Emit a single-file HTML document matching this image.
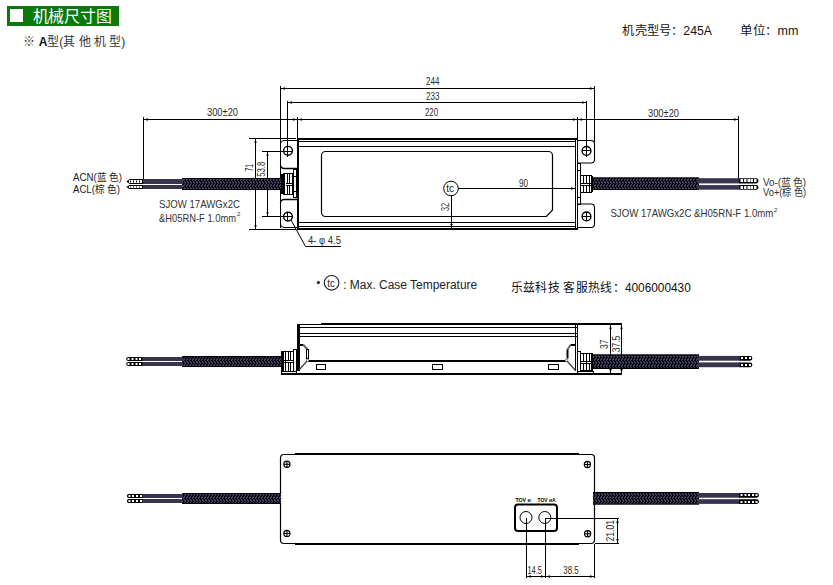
<!DOCTYPE html>
<html lang="zh-CN">
<head>
<meta charset="utf-8">
<style>
html,body{margin:0;padding:0;background:#fff;width:833px;height:585px;overflow:hidden;}
svg{display:block;}
text{font-family:"Liberation Sans",sans-serif;}
</style>
</head>
<body>
<svg width="833" height="585" viewBox="0 0 833 585">
<defs>
<pattern id="braid" x="0" y="0" width="3" height="6" patternUnits="userSpaceOnUse">
<rect width="3" height="6" fill="#08080f"/>
<rect x="0" y="0" width="1" height="1" fill="#444160"/>
<rect x="1" y="1" width="1" height="1" fill="#444160"/>
<rect x="1" y="2" width="2" height="1" fill="#444160"/>
<rect x="2" y="3" width="1" height="1" fill="#444160"/>
<rect x="1" y="4" width="1" height="1" fill="#444160"/>
<rect x="0" y="5" width="2" height="1" fill="#444160"/>
</pattern>
</defs>
<rect x="7" y="6" width="112" height="20" fill="#0a790a"/>
<rect x="10" y="9" width="13" height="13" fill="#fff"/>
<text x="32.5" y="22" font-size="16" textLength="79.5" lengthAdjust="spacingAndGlyphs" font-weight="300" fill="#fff" >机械尺寸图</text>
<text x="23.3" y="46" font-size="12" fill="#333">※ <tspan font-weight="bold" fill="#111">A</tspan>型(其 他 机 型)</text>
<text x="622.3" y="35" font-size="12" textLength="89.6" lengthAdjust="spacingAndGlyphs" fill="#151515" >机壳型号：245A</text>
<text x="740" y="35" font-size="12" textLength="58.5" lengthAdjust="spacingAndGlyphs" fill="#151515" >单位：mm</text>
<g shape-rendering="crispEdges">
<line x1="280.5" y1="86" x2="280.5" y2="228" stroke="#000" stroke-width="1"/>
<line x1="594.5" y1="86" x2="594.5" y2="142" stroke="#000" stroke-width="1"/>
<line x1="280.5" y1="88.5" x2="594.5" y2="88.5" stroke="#000" stroke-width="1"/>
<line x1="287.5" y1="101" x2="287.5" y2="157" stroke="#000" stroke-width="1"/>
<line x1="586.5" y1="101" x2="586.5" y2="157" stroke="#000" stroke-width="1"/>
<line x1="287.5" y1="102.5" x2="586.5" y2="102.5" stroke="#000" stroke-width="1"/>
<line x1="297.5" y1="117" x2="297.5" y2="139" stroke="#000" stroke-width="1"/>
<line x1="577.5" y1="117" x2="577.5" y2="139" stroke="#000" stroke-width="1"/>
<line x1="143.5" y1="117" x2="143.5" y2="180" stroke="#000" stroke-width="1"/>
<line x1="738.5" y1="116" x2="738.5" y2="179" stroke="#000" stroke-width="1"/>
<line x1="143.5" y1="119.5" x2="738.5" y2="119.5" stroke="#000" stroke-width="1"/>
<line x1="249" y1="138.5" x2="296" y2="138.5" stroke="#000" stroke-width="1"/>
<line x1="249" y1="229.5" x2="296" y2="229.5" stroke="#000" stroke-width="1"/>
<line x1="255.5" y1="138.5" x2="255.5" y2="229.5" stroke="#000" stroke-width="1"/>
<line x1="262" y1="151.5" x2="293" y2="151.5" stroke="#000" stroke-width="1"/>
<line x1="262" y1="216.5" x2="293" y2="216.5" stroke="#000" stroke-width="1"/>
<line x1="267.5" y1="151.5" x2="267.5" y2="216.5" stroke="#000" stroke-width="1"/>
</g>
<polygon points="281,88.5 285,87.3 285,89.7" fill="#000"/>
<polygon points="594,88.5 590,87.3 590,89.7" fill="#000"/>
<polygon points="288,102.5 292,101.3 292,103.7" fill="#000"/>
<polygon points="586,102.5 582,101.3 582,103.7" fill="#000"/>
<polygon points="144,119.5 148,118.3 148,120.7" fill="#000"/>
<polygon points="297,119.5 293,118.3 293,120.7" fill="#000"/>
<polygon points="298,119.5 302,118.3 302,120.7" fill="#000"/>
<polygon points="577,119.5 573,118.3 573,120.7" fill="#000"/>
<polygon points="578,119.5 582,118.3 582,120.7" fill="#000"/>
<polygon points="738,119.5 734,118.3 734,120.7" fill="#000"/>
<polygon points="255.5,139 254.3,143 256.7,143" fill="#000"/>
<polygon points="255.5,229 254.3,225 256.7,225" fill="#000"/>
<polygon points="267.5,152 266.3,156 268.7,156" fill="#000"/>
<polygon points="267.5,216 266.3,212 268.7,212" fill="#000"/>
<polygon points="575,188.5 571,187.3 571,189.7" fill="#000"/>
<polygon points="451.5,228 450.3,224 452.7,224" fill="#000"/>
<text x="426" y="85" font-size="10" textLength="13.5" lengthAdjust="spacingAndGlyphs" fill="#2b2b2b" >244</text>
<text x="426" y="100" font-size="10" textLength="13.5" lengthAdjust="spacingAndGlyphs" fill="#2b2b2b" >233</text>
<text x="425" y="116" font-size="10" textLength="13" lengthAdjust="spacingAndGlyphs" fill="#2b2b2b" >220</text>
<text x="207" y="115.6" font-size="10" textLength="31" lengthAdjust="spacingAndGlyphs" fill="#2b2b2b" >300±20</text>
<text x="648" y="117" font-size="10" textLength="31" lengthAdjust="spacingAndGlyphs" fill="#2b2b2b" >300±20</text>
<text transform="translate(253.3,171.5) rotate(-90)" font-size="10" textLength="7.5" lengthAdjust="spacingAndGlyphs" fill="#2b2b2b" >71</text>
<text transform="translate(265.1,176.7) rotate(-90)" font-size="10" textLength="15" lengthAdjust="spacingAndGlyphs" fill="#2b2b2b" >53.8</text>
<text x="519" y="187.2" font-size="10" textLength="9" lengthAdjust="spacingAndGlyphs" fill="#2b2b2b" >90</text>
<text transform="translate(448.6,210.9) rotate(-90)" font-size="10" textLength="8" lengthAdjust="spacingAndGlyphs" fill="#2b2b2b" >32</text>
<g shape-rendering="crispEdges">
<rect x="297" y="138" width="281" height="2" fill="#000"/>
<rect x="297" y="228" width="281" height="2" fill="#000"/>
<rect x="297" y="138" width="2" height="92" fill="#000"/>
<line x1="298" y1="141.5" x2="576" y2="141.5" stroke="#000" stroke-width="1"/>
<line x1="298" y1="146.5" x2="576" y2="146.5" stroke="#000" stroke-width="1"/>
<line x1="298" y1="222.5" x2="576" y2="222.5" stroke="#000" stroke-width="1"/>
<line x1="298" y1="226.5" x2="576" y2="226.5" stroke="#000" stroke-width="1"/>
<line x1="575.5" y1="139" x2="575.5" y2="229" stroke="#000" stroke-width="1"/>
<line x1="577.5" y1="139" x2="577.5" y2="229" stroke="#000" stroke-width="1"/>
</g>
<path d="M321.5,155.5 A4,4 0 0 1 325.5,151.5 H548.5 A4,4 0 0 1 552.5,155.5 V210 L546.5,216.5 H325.5 A4,4 0 0 1 321.5,212.5 Z" fill="none" stroke="#000" stroke-width="1.2" />
<circle cx="451" cy="188.5" r="7.3" fill="#fff" stroke="#000" stroke-width="1"/>
<text x="446.2" y="192.2" font-size="10" textLength="7.8" lengthAdjust="spacingAndGlyphs" fill="#222" >tc</text>
<g shape-rendering="crispEdges">
<line x1="458" y1="188.5" x2="575" y2="188.5" stroke="#000" stroke-width="1"/>
<line x1="451.5" y1="196" x2="451.5" y2="228" stroke="#000" stroke-width="1"/>
</g>
<path d="M297,140.5 H284 A3.5,3.5 0 0 0 280.5,144" fill="none" stroke="#000" stroke-width="1" />
<path d="M280.5,165 A3.5,3.5 0 0 0 284,168.5 H297" fill="none" stroke="#000" stroke-width="1.4" />
<path d="M297,199.5 H284 A3.5,3.5 0 0 0 280.5,203" fill="none" stroke="#000" stroke-width="1.4" />
<path d="M280.5,224 A3.5,3.5 0 0 0 284,227.5 H297" fill="none" stroke="#000" stroke-width="1" />
<path d="M578,140.5 H591 A3.5,3.5 0 0 1 594.5,144 V159.5 A3.5,3.5 0 0 1 591,163 H578" fill="none" stroke="#000" stroke-width="1.1" />
<path d="M578,204 H591 A3.5,3.5 0 0 1 594.5,207.5 V224 A3.5,3.5 0 0 1 591,227.5 H578" fill="none" stroke="#000" stroke-width="1.1" />
<circle cx="288" cy="150.8" r="4.4" fill="none" stroke="#000" stroke-width="1.4"/>
<circle cx="288" cy="216.6" r="4.4" fill="none" stroke="#000" stroke-width="1.4"/>
<circle cx="586.5" cy="150.9" r="4.4" fill="none" stroke="#000" stroke-width="1.4"/>
<circle cx="586.5" cy="216.4" r="4.4" fill="none" stroke="#000" stroke-width="1.4"/>
<g shape-rendering="crispEdges">
<line x1="283" y1="216.5" x2="293" y2="216.5" stroke="#000" stroke-width="1"/>
<line x1="287.5" y1="212" x2="287.5" y2="221" stroke="#000" stroke-width="1"/>
<line x1="582" y1="150.5" x2="591" y2="150.5" stroke="#000" stroke-width="1"/>
<line x1="582" y1="216.5" x2="591" y2="216.5" stroke="#000" stroke-width="1"/>
<line x1="586.5" y1="212" x2="586.5" y2="221" stroke="#000" stroke-width="1"/>
</g>
<path d="M291,220 L305.5,246.5 H341" fill="none" stroke="#000" stroke-width="1" />
<text x="308" y="244.4" font-size="11" textLength="33" lengthAdjust="spacingAndGlyphs" fill="#2b2b2b" >4- φ 4.5</text>
<g shape-rendering="crispEdges">
<rect x="281" y="174" width="2" height="20" fill="#000"/>
<rect x="283.5" y="173.5" width="10" height="21" rx="0" fill="none" stroke="#000" stroke-width="1"/>
<line x1="284.5" y1="174" x2="284.5" y2="194" stroke="#000" stroke-width="1"/>
<line x1="287.5" y1="174" x2="287.5" y2="183" stroke="#000" stroke-width="1"/>
<line x1="287.5" y1="186" x2="287.5" y2="194" stroke="#000" stroke-width="1"/>
<line x1="289.5" y1="174" x2="289.5" y2="183" stroke="#000" stroke-width="1"/>
<line x1="289.5" y1="186" x2="289.5" y2="194" stroke="#000" stroke-width="1"/>
<line x1="292.5" y1="174" x2="292.5" y2="194" stroke="#000" stroke-width="1"/>
<line x1="286" y1="183.5" x2="293" y2="183.5" stroke="#000" stroke-width="1"/>
<line x1="286" y1="185.5" x2="293" y2="185.5" stroke="#000" stroke-width="1"/>
<rect x="293.5" y="169.5" width="3" height="28" rx="0" fill="none" stroke="#000" stroke-width="1"/>
<line x1="293" y1="176.5" x2="296" y2="176.5" stroke="#000" stroke-width="1"/>
<line x1="293" y1="191.5" x2="296" y2="191.5" stroke="#000" stroke-width="1"/>
<rect x="577.5" y="163.5" width="3" height="40.5" rx="0" fill="none" stroke="#000" stroke-width="1"/>
<line x1="578" y1="170.5" x2="580" y2="170.5" stroke="#000" stroke-width="1"/>
<line x1="578" y1="197.5" x2="580" y2="197.5" stroke="#000" stroke-width="1"/>
<rect x="580.5" y="175.5" width="11" height="16.5" rx="0" fill="none" stroke="#000" stroke-width="1"/>
<line x1="583.5" y1="176" x2="583.5" y2="183" stroke="#000" stroke-width="1"/>
<line x1="583.5" y1="186" x2="583.5" y2="192" stroke="#000" stroke-width="1"/>
<line x1="586.5" y1="176" x2="586.5" y2="183" stroke="#000" stroke-width="1"/>
<line x1="586.5" y1="186" x2="586.5" y2="192" stroke="#000" stroke-width="1"/>
<line x1="589.5" y1="176" x2="589.5" y2="192" stroke="#000" stroke-width="1"/>
<line x1="581" y1="183.5" x2="591" y2="183.5" stroke="#000" stroke-width="1"/>
<line x1="581" y1="185.5" x2="591" y2="185.5" stroke="#000" stroke-width="1"/>
<rect x="591" y="176" width="2" height="16" fill="#000"/>
</g>
<rect x="182" y="178" width="99" height="12" fill="url(#braid)"/>
<rect x="182" y="178" width="99" height="1" fill="#000"/>
<rect x="182" y="189" width="99" height="1" fill="#000"/>
<rect x="593" y="177.5" width="106" height="12.5" fill="url(#braid)"/>
<rect x="593" y="177.5" width="106" height="1" fill="#000"/>
<rect x="593" y="189" width="106" height="1" fill="#000"/>
<rect x="143" y="179" width="40" height="5" fill="#38344e"/>
<rect x="143" y="185" width="40" height="4" fill="#38344e"/>
<rect x="698" y="178.2" width="41" height="5.2" fill="#38344e"/>
<rect x="698" y="185.1" width="41" height="4.6" fill="#38344e"/>
<path d="M143,179 H129.8 L126.3,181.5 L129.8,184 H143 Z" fill="#000" stroke="#000" stroke-width="0" />
<rect x="129" y="180" width="13" height="3" fill="#fff"/>
<rect x="130" y="180.5" width="1" height="2" fill="#000"/>
<rect x="133" y="180.5" width="1" height="2" fill="#000"/>
<rect x="136" y="180.5" width="1" height="2" fill="#000"/>
<rect x="139" y="180.5" width="1" height="2" fill="#000"/>
<path d="M143,185 H129.3 L126.3,187.0 L129.3,189 H143 Z" fill="#000" stroke="#000" stroke-width="0" />
<rect x="129" y="186" width="13" height="2" fill="#fff"/>
<rect x="130" y="186.5" width="1" height="1" fill="#000"/>
<rect x="133" y="186.5" width="1" height="1" fill="#000"/>
<rect x="136" y="186.5" width="1" height="1" fill="#000"/>
<rect x="139" y="186.5" width="1" height="1" fill="#000"/>
<path d="M739,178.2 H755.9 A2.6000000000000085,2.6000000000000085 0 0 1 755.9,183.4 H739 Z" fill="#000" stroke="#000" stroke-width="0" />
<rect x="740.5" y="179" width="2.5" height="3" fill="#fff"/>
<rect x="744.0" y="179" width="2.5" height="3" fill="#fff"/>
<rect x="747.5" y="179" width="2.5" height="3" fill="#fff"/>
<rect x="750.5" y="179" width="2.5" height="3" fill="#fff"/>
<rect x="754.0" y="179" width="2.5" height="3" fill="#fff"/>
<path d="M739,185.1 H756.15 A2.3500000000000085,2.3500000000000085 0 0 1 756.15,189.8 H739 Z" fill="#000" stroke="#000" stroke-width="0" />
<rect x="740.5" y="186" width="2.5" height="3" fill="#fff"/>
<rect x="744.0" y="186" width="2.5" height="3" fill="#fff"/>
<rect x="747.5" y="186" width="2.5" height="3" fill="#fff"/>
<rect x="750.5" y="186" width="2.5" height="3" fill="#fff"/>
<rect x="754.0" y="186" width="2.5" height="3" fill="#fff"/>
<text x="73" y="180.9" font-size="10" textLength="49" lengthAdjust="spacingAndGlyphs" fill="#222" >ACN(蓝 色)</text>
<text x="73" y="192.7" font-size="10" textLength="47" lengthAdjust="spacingAndGlyphs" fill="#222" >ACL(棕 色)</text>
<text x="763" y="185.5" font-size="10.5" textLength="43" lengthAdjust="spacingAndGlyphs" fill="#333" >Vo-(蓝 色)</text>
<text x="763" y="195.8" font-size="10.5" textLength="43" lengthAdjust="spacingAndGlyphs" fill="#333" >Vo+(棕 色)</text>
<text x="159" y="208" font-size="10.5" textLength="81" lengthAdjust="spacingAndGlyphs" fill="#333" >SJOW 17AWGx2C</text>
<text x="159" y="221.7" font-size="10.5" textLength="77" lengthAdjust="spacingAndGlyphs" fill="#333" >&amp;H05RN-F 1.0mm</text>
<text x="237" y="216" font-size="6" fill="#333" >2</text>
<text x="610.4" y="217.3" font-size="10.5" textLength="163" lengthAdjust="spacingAndGlyphs" fill="#333" >SJOW 17AWGx2C &amp;H05RN-F 1.0mm</text>
<text x="774" y="212" font-size="6" fill="#333" >2</text>
<circle cx="318.4" cy="282.6" r="1.5" fill="#111"/>
<circle cx="331.6" cy="282.8" r="7.3" fill="none" stroke="#222" stroke-width="1.1"/>
<text x="327.3" y="286.7" font-size="10" textLength="7.5" lengthAdjust="spacingAndGlyphs" fill="#222" >tc</text>
<text x="343.2" y="288.6" font-size="12.5" textLength="134" lengthAdjust="spacingAndGlyphs" fill="#222" >: Max. Case Temperature</text>
<text x="510.8" y="292" font-size="12.5" textLength="180" lengthAdjust="spacingAndGlyphs" fill="#111" >乐兹科技 客服热线：4006000430</text>
<g shape-rendering="crispEdges">
<rect x="297" y="324" width="24" height="1.3" fill="#000"/>
<rect x="321" y="323" width="301" height="2" fill="#000"/>
<rect x="297" y="324" width="2.5" height="47" fill="#000"/>
<rect x="308" y="360" width="259" height="2" fill="#000"/>
<rect x="281" y="373" width="341" height="2" fill="#000"/>
<line x1="299" y1="327.5" x2="577" y2="327.5" stroke="#000" stroke-width="1"/>
<line x1="299" y1="333.5" x2="577" y2="333.5" stroke="#000" stroke-width="1"/>
<line x1="299" y1="336.5" x2="577" y2="336.5" stroke="#000" stroke-width="1"/>
<line x1="575.5" y1="324" x2="575.5" y2="371" stroke="#000" stroke-width="1"/>
<line x1="577.5" y1="324" x2="577.5" y2="371" stroke="#000" stroke-width="1"/>
<rect x="316" y="364.5" width="9.5" height="5" rx="0" fill="none" stroke="#000" stroke-width="1"/>
<rect x="432.5" y="364.5" width="9.5" height="5" rx="0" fill="none" stroke="#000" stroke-width="1"/>
<rect x="548.5" y="364.5" width="9.5" height="5" rx="0" fill="none" stroke="#000" stroke-width="1"/>
<line x1="610.5" y1="325" x2="610.5" y2="373" stroke="#000" stroke-width="1"/>
<line x1="621.5" y1="323" x2="621.5" y2="374" stroke="#000" stroke-width="1"/>
</g>
<polygon points="610.5,325 609.3,329 611.7,329" fill="#000"/>
<polygon points="610.5,373 609.3,369 611.7,369" fill="#000"/>
<polygon points="621.5,325 620.3,329 622.7,329" fill="#000"/>
<polygon points="621.5,373 620.3,369 622.7,369" fill="#000"/>
<path d="M299,345 H303.5" fill="none" stroke="#000" stroke-width="2" />
<path d="M303.5,345 L307.5,349.5" fill="none" stroke="#666" stroke-width="2" />
<rect x="306.5" y="349.5" width="2" height="9" rx="0" fill="none" stroke="#000" stroke-width="1"/>
<circle cx="307.5" cy="360.3" r="1.3" fill="#fff" stroke="#555" stroke-width="0.8"/>
<path d="M306.8,361.3 L299,370" fill="none" stroke="#444" stroke-width="1.3" />
<path d="M575,345 H570.5" fill="none" stroke="#000" stroke-width="2" />
<path d="M570.5,345 L567.5,349.5" fill="none" stroke="#666" stroke-width="2" />
<rect x="566.5" y="349.5" width="2" height="9" fill="#000"/>
<circle cx="566.5" cy="360.3" r="1.3" fill="#fff" stroke="#555" stroke-width="0.8"/>
<path d="M567.2,361.3 L575.5,370.5" fill="none" stroke="#444" stroke-width="1.3" />
<text transform="translate(608,349.1) rotate(-90)" font-size="10" textLength="9.6" lengthAdjust="spacingAndGlyphs" fill="#2b2b2b" >37</text>
<text transform="translate(619.5,352.3) rotate(-90)" font-size="10" textLength="16.7" lengthAdjust="spacingAndGlyphs" fill="#2b2b2b" >37.5</text>
<g shape-rendering="crispEdges">
<rect x="281" y="351" width="2" height="21" fill="#000"/>
<rect x="283.5" y="351.5" width="10" height="19.5" rx="0" fill="none" stroke="#000" stroke-width="1"/>
<line x1="285.5" y1="352" x2="285.5" y2="371" stroke="#000" stroke-width="1"/>
<line x1="288.5" y1="352" x2="288.5" y2="360" stroke="#000" stroke-width="1"/>
<line x1="288.5" y1="363" x2="288.5" y2="371" stroke="#000" stroke-width="1"/>
<line x1="290.5" y1="352" x2="290.5" y2="360" stroke="#000" stroke-width="1"/>
<line x1="290.5" y1="363" x2="290.5" y2="371" stroke="#000" stroke-width="1"/>
<line x1="284" y1="360.5" x2="293" y2="360.5" stroke="#000" stroke-width="1"/>
<line x1="284" y1="362.5" x2="293" y2="362.5" stroke="#000" stroke-width="1"/>
<rect x="293.5" y="349.5" width="3" height="22" rx="0" fill="none" stroke="#000" stroke-width="1"/>
<rect x="281.5" y="371.5" width="15" height="2" rx="0" fill="none" stroke="#000" stroke-width="1"/>
<rect x="577.5" y="351.5" width="3" height="20" rx="0" fill="none" stroke="#000" stroke-width="1"/>
<rect x="580.5" y="353.5" width="11" height="17" rx="0" fill="none" stroke="#000" stroke-width="1"/>
<line x1="583.5" y1="354" x2="583.5" y2="361" stroke="#000" stroke-width="1"/>
<line x1="583.5" y1="364" x2="583.5" y2="370" stroke="#000" stroke-width="1"/>
<line x1="586.5" y1="354" x2="586.5" y2="370" stroke="#000" stroke-width="1"/>
<line x1="589.5" y1="354" x2="589.5" y2="361" stroke="#000" stroke-width="1"/>
<line x1="589.5" y1="364" x2="589.5" y2="370" stroke="#000" stroke-width="1"/>
<line x1="581" y1="361.5" x2="591" y2="361.5" stroke="#000" stroke-width="1"/>
<line x1="581" y1="363.5" x2="591" y2="363.5" stroke="#000" stroke-width="1"/>
<rect x="591" y="353" width="2" height="18" fill="#000"/>
<rect x="577.5" y="371.5" width="16" height="2" rx="0" fill="none" stroke="#000" stroke-width="1"/>
</g>
<rect x="182" y="356" width="99" height="11" fill="url(#braid)"/>
<rect x="182" y="356" width="99" height="1" fill="#000"/>
<rect x="182" y="366" width="99" height="1" fill="#000"/>
<rect x="593" y="354.5" width="106" height="14.5" fill="url(#braid)"/>
<rect x="593" y="354.5" width="106" height="1" fill="#000"/>
<rect x="593" y="368" width="106" height="1" fill="#000"/>
<rect x="142" y="357" width="41" height="4" fill="#38344e"/>
<rect x="142" y="362" width="41" height="4" fill="#38344e"/>
<rect x="698" y="355.9" width="42" height="4.8" fill="#38344e"/>
<rect x="698" y="362.4" width="42" height="4.8" fill="#38344e"/>
<path d="M142.4,357 H128.2 A2.0,2.0 0 0 0 128.2,361 H142.4 Z" fill="#000" stroke="#000" stroke-width="0" />
<rect x="127.5" y="358" width="2" height="2" fill="#fff"/>
<rect x="131.5" y="358" width="2" height="2" fill="#fff"/>
<rect x="135.5" y="358" width="2" height="2" fill="#fff"/>
<rect x="139.0" y="358" width="2" height="2" fill="#fff"/>
<path d="M142.4,362 H128.2 A2.0,2.0 0 0 0 128.2,366 H142.4 Z" fill="#000" stroke="#000" stroke-width="0" />
<rect x="127.5" y="363" width="2" height="2" fill="#fff"/>
<rect x="131.5" y="363" width="2" height="2" fill="#fff"/>
<rect x="135.5" y="363" width="2" height="2" fill="#fff"/>
<rect x="139.0" y="363" width="2" height="2" fill="#fff"/>
<path d="M739.7,355.9 H750.0 A2.4000000000000057,2.4000000000000057 0 0 1 750.0,360.7 H739.7 Z" fill="#000" stroke="#000" stroke-width="0" />
<rect x="741.0" y="357" width="2" height="2" fill="#fff"/>
<rect x="745.0" y="357" width="2" height="2" fill="#fff"/>
<rect x="749.0" y="357" width="2" height="2" fill="#fff"/>
<path d="M739.7,362.4 H750.0 A2.4000000000000057,2.4000000000000057 0 0 1 750.0,367.2 H739.7 Z" fill="#000" stroke="#000" stroke-width="0" />
<rect x="741.0" y="364" width="2" height="2" fill="#fff"/>
<rect x="745.0" y="364" width="2" height="2" fill="#fff"/>
<rect x="749.0" y="364" width="2" height="2" fill="#fff"/>
<path d="M284,454.5 H591 A3.5,3.5 0 0 1 594.5,458 V540 A3.5,3.5 0 0 1 591,543.5 H284 A3.5,3.5 0 0 1 280.5,540 V458 A3.5,3.5 0 0 1 284,454.5 Z" fill="none" stroke="#000" stroke-width="1.2" />
<g shape-rendering="crispEdges">
<rect x="295" y="453" width="284" height="1.6" fill="#000"/>
<rect x="295" y="543.2" width="284" height="1.6" fill="#000"/>
</g>
<circle cx="286.9" cy="464.3" r="3.1" fill="none" stroke="#000" stroke-width="1.2"/>
<line x1="283.9" y1="464.3" x2="289.9" y2="464.3" stroke="#000" stroke-width="1.1"/>
<line x1="286.9" y1="461.3" x2="286.9" y2="467.3" stroke="#000" stroke-width="1.1"/>
<circle cx="587.4" cy="464.5" r="3.1" fill="none" stroke="#000" stroke-width="1.2"/>
<line x1="584.4" y1="464.5" x2="590.4" y2="464.5" stroke="#000" stroke-width="1.1"/>
<line x1="587.4" y1="461.5" x2="587.4" y2="467.5" stroke="#000" stroke-width="1.1"/>
<circle cx="286.9" cy="533.4" r="3.1" fill="none" stroke="#000" stroke-width="1.2"/>
<line x1="283.9" y1="533.4" x2="289.9" y2="533.4" stroke="#000" stroke-width="1.1"/>
<line x1="286.9" y1="530.4" x2="286.9" y2="536.4" stroke="#000" stroke-width="1.1"/>
<circle cx="587.6" cy="533.8" r="3.1" fill="none" stroke="#000" stroke-width="1.2"/>
<line x1="584.6" y1="533.8" x2="590.6" y2="533.8" stroke="#000" stroke-width="1.1"/>
<line x1="587.6" y1="530.8" x2="587.6" y2="536.8" stroke="#000" stroke-width="1.1"/>
<rect x="515" y="504.5" width="42" height="26.5" rx="3" fill="none" stroke="#000" stroke-width="2"/>
<circle cx="526" cy="517.5" r="6" fill="none" stroke="#000" stroke-width="1"/>
<circle cx="544.8" cy="517.5" r="6" fill="none" stroke="#000" stroke-width="1"/>
<g shape-rendering="crispEdges">
<line x1="526.5" y1="518" x2="526.5" y2="578" stroke="#000" stroke-width="1"/>
<line x1="545.5" y1="518" x2="545.5" y2="578" stroke="#000" stroke-width="1"/>
<line x1="594.5" y1="544" x2="594.5" y2="578" stroke="#000" stroke-width="1"/>
<line x1="526" y1="576.5" x2="595" y2="576.5" stroke="#000" stroke-width="1"/>
<line x1="545" y1="518.5" x2="619" y2="518.5" stroke="#000" stroke-width="1"/>
<line x1="595" y1="543.5" x2="619" y2="543.5" stroke="#000" stroke-width="1"/>
<line x1="617.5" y1="518.5" x2="617.5" y2="543.5" stroke="#000" stroke-width="1"/>
</g>
<polygon points="617.5,519 616.3,523 618.7,523" fill="#000"/>
<polygon points="617.5,543 616.3,539 618.7,539" fill="#000"/>
<polygon points="527,576.5 531,575.3 531,577.7" fill="#000"/>
<polygon points="545,576.5 541,575.3 541,577.7" fill="#000"/>
<polygon points="546,576.5 550,575.3 550,577.7" fill="#000"/>
<polygon points="594,576.5 590,575.3 590,577.7" fill="#000"/>
<text x="515.4" y="501.8" font-size="5" textLength="15.4" lengthAdjust="spacingAndGlyphs" font-weight="bold" fill="#000" >TOV ᴎ</text>
<text x="537.6" y="501.8" font-size="5" textLength="18" lengthAdjust="spacingAndGlyphs" font-weight="bold" fill="#000" >TOV ᴎA</text>
<text x="527.4" y="574.3" font-size="10" textLength="14.5" lengthAdjust="spacingAndGlyphs" fill="#2b2b2b" >14.5</text>
<text x="563.3" y="574.3" font-size="10" textLength="15.4" lengthAdjust="spacingAndGlyphs" fill="#2b2b2b" >38.5</text>
<text transform="translate(613.7,541.4) rotate(-90)" font-size="10" textLength="21.4" lengthAdjust="spacingAndGlyphs" fill="#2b2b2b" >21.01</text>
<rect x="182" y="493" width="99" height="11" fill="url(#braid)"/>
<rect x="182" y="493" width="99" height="1" fill="#000"/>
<rect x="182" y="503" width="99" height="1" fill="#000"/>
<rect x="593" y="492" width="106" height="12.5" fill="url(#braid)"/>
<rect x="593" y="492" width="106" height="1" fill="#000"/>
<rect x="593" y="503.5" width="106" height="1" fill="#000"/>
<rect x="142" y="494" width="41" height="4" fill="#38344e"/>
<rect x="142" y="499" width="41" height="4" fill="#38344e"/>
<rect x="698" y="493" width="41" height="4.7" fill="#38344e"/>
<rect x="698" y="499.2" width="41" height="4.7" fill="#38344e"/>
<path d="M142.4,494 H128.9 A2.0,2.0 0 0 0 128.9,498 H142.4 Z" fill="#000" stroke="#000" stroke-width="0" />
<rect x="128.5" y="495" width="2" height="2" fill="#fff"/>
<rect x="132.0" y="495" width="2" height="2" fill="#fff"/>
<rect x="136.0" y="495" width="2" height="2" fill="#fff"/>
<rect x="140.0" y="495" width="2" height="2" fill="#fff"/>
<path d="M142.4,499 H128.9 A2.0,2.0 0 0 0 128.9,503 H142.4 Z" fill="#000" stroke="#000" stroke-width="0" />
<rect x="128.5" y="500" width="2" height="2" fill="#fff"/>
<rect x="132.0" y="500" width="2" height="2" fill="#fff"/>
<rect x="136.0" y="500" width="2" height="2" fill="#fff"/>
<rect x="140.0" y="500" width="2" height="2" fill="#fff"/>
<path d="M739,493 H756.65 A2.3499999999999943,2.3499999999999943 0 0 1 756.65,497.7 H739 Z" fill="#000" stroke="#000" stroke-width="0" />
<rect x="740.5" y="494" width="2" height="2" fill="#fff"/>
<rect x="744.5" y="494" width="2" height="2" fill="#fff"/>
<rect x="748.0" y="494" width="2" height="2" fill="#fff"/>
<rect x="752.0" y="494" width="2" height="2" fill="#fff"/>
<rect x="755.5" y="494" width="2" height="2" fill="#fff"/>
<path d="M739,499.2 H756.65 A2.3499999999999943,2.3499999999999943 0 0 1 756.65,503.9 H739 Z" fill="#000" stroke="#000" stroke-width="0" />
<rect x="740.5" y="501" width="2" height="2" fill="#fff"/>
<rect x="744.5" y="501" width="2" height="2" fill="#fff"/>
<rect x="748.0" y="501" width="2" height="2" fill="#fff"/>
<rect x="752.0" y="501" width="2" height="2" fill="#fff"/>
<rect x="755.5" y="501" width="2" height="2" fill="#fff"/>
</svg>
</body>
</html>
